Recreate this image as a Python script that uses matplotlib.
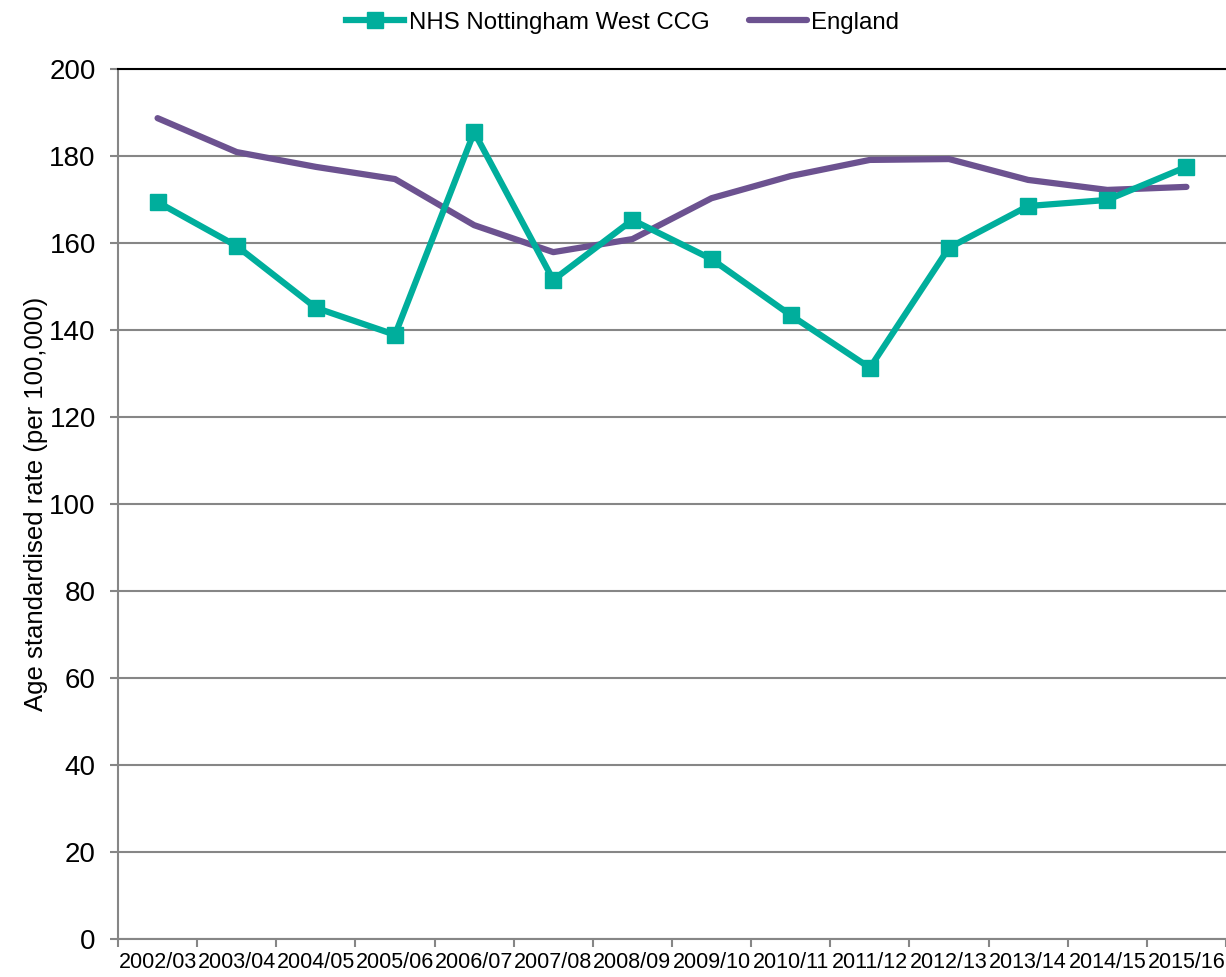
import matplotlib.pyplot as plt
import numpy as np

plt.rcParams['font.family'] = ['Liberation Sans', 'DejaVu Sans']

years = ['2002/03', '2003/04', '2004/05', '2005/06', '2006/07', '2007/08', '2008/09',
         '2009/10', '2010/11', '2011/12', '2012/13', '2013/14', '2014/15', '2015/16']
ccg = [169.4, 159.3, 145.1, 138.9, 185.5, 151.5, 165.3,
       156.3, 143.4, 131.3, 158.9, 168.5, 169.9, 177.5]
england = [188.7, 180.9, 177.5, 174.7, 164.1, 157.9, 160.9,
           170.3, 175.4, 179.1, 179.3, 174.5, 172.2, 172.9]

teal = '#00AE9C'
purple = '#6C5290'
grey = '#868686'

fig = plt.figure(figsize=(12.26, 9.77), dpi=100)
ax = fig.add_axes([118 / 1226, 1 - 939 / 977, 1108 / 1226, 870 / 977])

x = np.arange(len(years))
ax.plot(x, ccg, color=teal, lw=4.5, marker='s', ms=11, label='NHS Nottingham West CCG', zorder=4)
ax.plot(x, england, color=purple, lw=4.5, solid_capstyle='round', label='England', zorder=3)

ax.set_xlim(-0.5, len(years) - 0.5)
ax.set_ylim(0, 200)
ax.set_yticks(np.arange(0, 201, 20))
ax.set_xticks(x)
ax.set_xticklabels(years, fontsize=15.5)
ax.set_xticks(np.arange(-0.5, len(years), 1), minor=True)
ax.tick_params(axis='x', which='major', length=0, pad=9)
ax.tick_params(axis='x', which='minor', length=6, color=grey, width=1.5)
ax.tick_params(axis='y', labelsize=20, length=6, color=grey, width=1.5, pad=10)

ax.grid(axis='y', color=grey, lw=1.5)
ax.set_axisbelow(True)
ax.spines['right'].set_visible(False)
ax.spines['top'].set_color('black')
ax.spines['top'].set_linewidth(1.5)
ax.spines['left'].set_color(grey)
ax.spines['left'].set_linewidth(1.5)
ax.spines['bottom'].set_color(grey)
ax.spines['bottom'].set_linewidth(1.5)

ax.set_ylabel('Age standardised rate (per 100,000)', fontsize=18.5, labelpad=1)

fig.legend(loc='upper center', bbox_to_anchor=(0.508, 1.01), ncol=2, frameon=False,
           fontsize=17.3, handlelength=2.4, handletextpad=0.2, columnspacing=1.65)

fig.savefig('out.png', dpi=100)
